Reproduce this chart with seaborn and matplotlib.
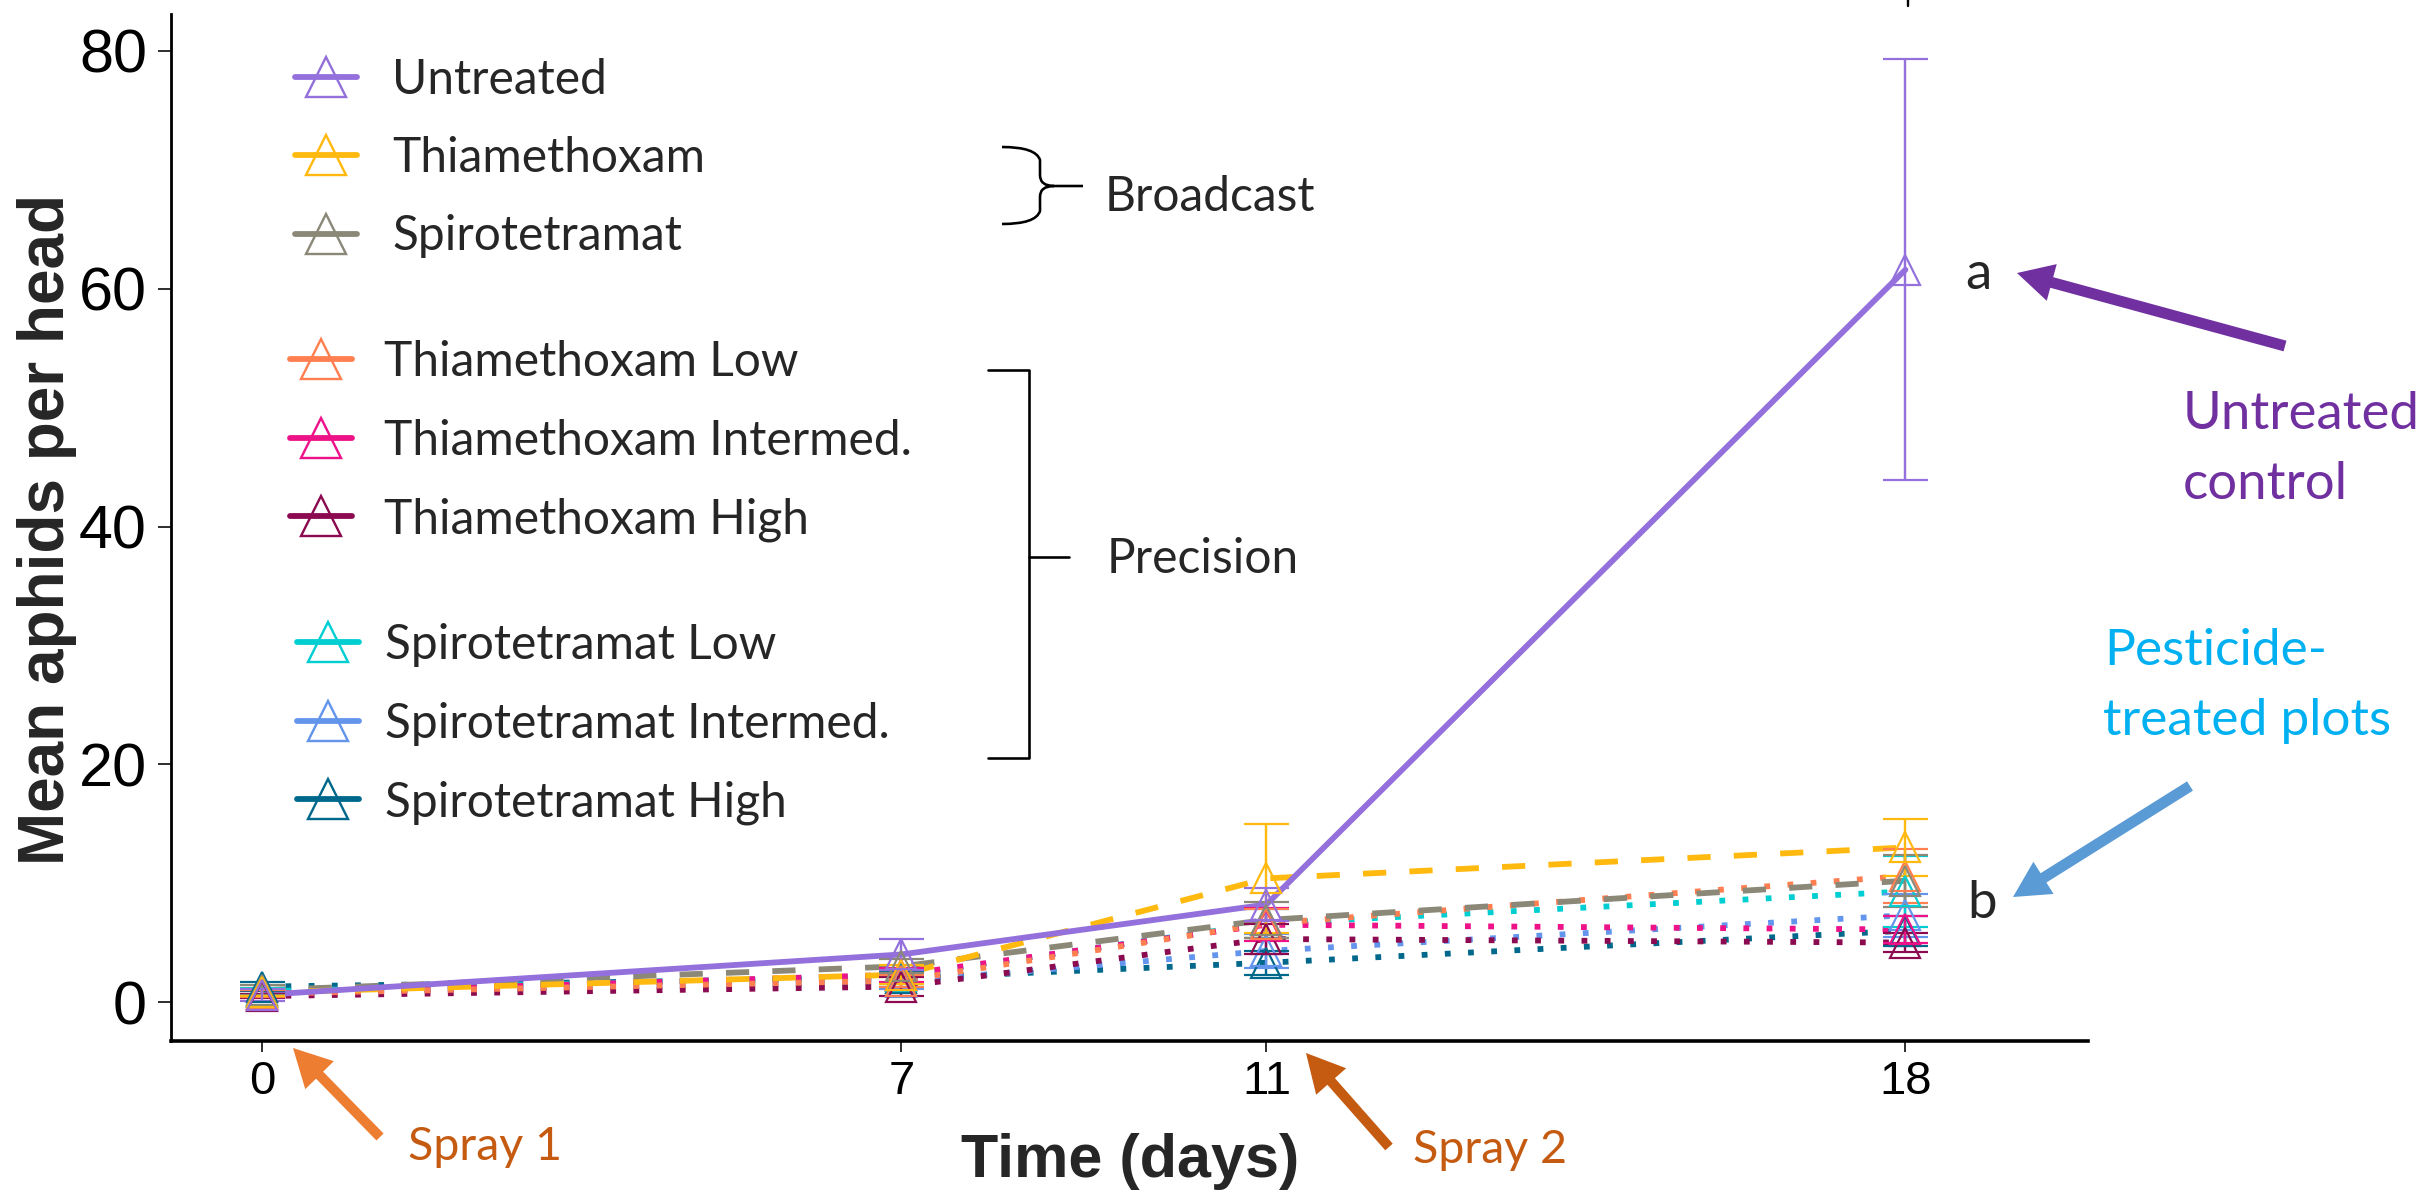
import matplotlib
matplotlib.use("Agg")
import numpy as np
import pandas as pd
import matplotlib.pyplot as plt
import seaborn as sns
from matplotlib.lines import Line2D
from matplotlib.path import Path
from matplotlib.patches import PathPatch, FancyArrowPatch, ArrowStyle

# ---------------- data ----------------
days = [0, 7, 11, 18]

treatments = [
    "Untreated", "Thiamethoxam", "Spirotetramat",
    "Thiamethoxam Low", "Thiamethoxam Intermed.", "Thiamethoxam High",
    "Spirotetramat Low", "Spirotetramat Intermed.", "Spirotetramat High",
]
application = [
    "Untreated", "Broadcast", "Broadcast",
    "Precision", "Precision", "Precision",
    "Precision", "Precision", "Precision",
]
colors = [
    "#9370DB", "#FFB90F", "#8B8878",
    "#FF7F50", "#EE1289", "#8B0A50",
    "#00CED1", "#6495ED", "#00688B",
]

untreated_mean = [0.6, 4.0, 8.2, 61.6]
untreated_se = [0.5, 1.3, 1.4, 17.7]
thia_mean = [0.8, 2.3, 10.4, 13.0]
thia_se = [0.3, 0.8, 4.6, 2.4]
spiro_mean = [1.0, 3.0, 6.9, 10.2]
spiro_se = [0.4, 0.6, 1.5, 2.2]
thia_low_mean = [0.7, 1.8, 6.6, 10.6]
thia_low_se = [0.3, 0.5, 1.2, 2.3]
thia_int_mean = [0.7, 2.3, 6.5, 6.1]
thia_int_se = [0.3, 0.6, 1.4, 1.1]
thia_high_mean = [0.5, 1.3, 5.3, 5.0]
thia_high_se = [0.2, 0.8, 1.3, 0.8]
spiro_low_mean = [0.9, 2.2, 6.6, 9.3]
spiro_low_se = [0.3, 0.6, 1.2, 3.0]
spiro_int_mean = [0.8, 1.7, 4.3, 7.3]
spiro_int_se = [0.3, 0.6, 1.4, 1.8]
spiro_high_mean = [1.3, 2.0, 3.3, 6.0]
spiro_high_se = [0.4, 0.5, 1.0, 1.25]

means = [untreated_mean, thia_mean, spiro_mean,
         thia_low_mean, thia_int_mean, thia_high_mean,
         spiro_low_mean, spiro_int_mean, spiro_high_mean]
ses = [untreated_se, thia_se, spiro_se,
       thia_low_se, thia_int_se, thia_high_se,
       spiro_low_se, spiro_int_se, spiro_high_se]

y_ticks = [0, 20, 40, 60, 80]

rows = []
for t, app, m, s in zip(treatments, application, means, ses):
    for d, mi, si in zip(days, m, s):
        rows.append({"day": d, "mean": mi, "se": si, "treatment": t, "application": app})
df = pd.DataFrame(rows)
palette = dict(zip(treatments, colors))

# ---------------- figure ----------------
W, H, DPI = 2425, 1192, 100
PX = 72.0 / DPI  # points per pixel

sns.set_style("white")
plt.rcParams["font.family"] = ["Liberation Sans", "DejaVu Sans"]
ANN = ["Lato", "DejaVu Sans"]

fig = plt.figure(figsize=(W / DPI, H / DPI), dpi=DPI)
ax = fig.add_axes([171 / W, 1 - 1041 / H, 1917 / W, (1041 - 14.5) / H])

LW = 5.8 * PX
sns.lineplot(
    data=df, x="day", y="mean", hue="treatment", hue_order=treatments[::-1],
    palette=palette, style="application",
    style_order=["Untreated", "Broadcast", "Precision"],
    dashes={"Untreated": "", "Broadcast": (4, 4), "Precision": (1, 3)},
    linewidth=LW, errorbar=None, legend=False, ax=ax, zorder=2,
)

for t in treatments[::-1]:
    sub = df[df["treatment"] == t]
    c = palette[t]
    ax.errorbar(
        sub["day"], sub["mean"], yerr=sub["se"], fmt="^", ms=30 * PX,
        mfc="none", mec=c, mew=2.2 * PX, ecolor=c, elinewidth=2.4 * PX,
        capsize=22.5 * PX, capthick=3.0 * PX, linestyle="none", zorder=3,
    )

ax.set_xlim(-1.0, 20.0)
ax.set_ylim(-3.28, 83.07)
ax.set_xticks(days)
ax.set_xticklabels([str(d) for d in days])
ax.set_yticks(y_ticks)
ax.set_yticklabels([str(v) for v in y_ticks])
ax.set_xlabel("")
ax.set_ylabel("")
for side in ("top", "right"):
    ax.spines[side].set_visible(False)
ax.spines["left"].set_linewidth(2.8 * PX)
ax.spines["bottom"].set_linewidth(3.6 * PX)
ax.spines["left"].set_color("black")
ax.spines["bottom"].set_color("black")
ax.tick_params(axis="y", labelsize=44, length=13 * PX, width=2 * PX,
               color="#333333", pad=11 * PX, left=True, labelcolor="black")
ax.tick_params(axis="x", labelsize=34, length=11 * PX, width=2 * PX,
               color="#333333", pad=8 * PX, bottom=True, labelcolor="black")


def fx(x):
    return x / W


def fy(y):
    return 1 - y / H


# axis titles
fig.text(fx(64), fy(529), "Mean aphids per head", rotation=90, rotation_mode="anchor",
         ha="center", va="baseline", fontsize=46, fontweight="bold")
fig.text(fx(1130), fy(1177), "Time (days)", ha="center", va="baseline",
         fontsize=44, fontweight="bold")

# legend in three groups
groups = [
    (treatments[0:3], 295, 158.0, 0.74),
    (treatments[3:6], 290, 441.0, 0.67),
    (treatments[6:9], 296.5, 724.0, 0.55),
]
LEG_SIZE = 34.5
for labels, left, ymid, pad in groups:
    handles = [
        Line2D([], [], color=palette[t], lw=LW, marker="^", ms=40 * PX,
               mfc="none", mec=palette[t], mew=2.4 * PX)
        for t in labels
    ]
    fig.legend(handles, labels, loc="center left",
               bbox_to_anchor=(fx(left), fy(ymid)), bbox_transform=fig.transFigure,
               frameon=False, borderpad=0, borderaxespad=0,
               handlelength=62 / (LEG_SIZE / PX), handletextpad=pad,
               labelspacing=0.72, prop={"family": ANN, "size": LEG_SIZE})

# brace for broadcast treatments
brace = [(1002, 147), (1036, 147), (1040, 160), (1040, 175), (1040, 186), (1054, 186),
         (1083, 186), (1054, 186), (1040, 186), (1040, 197), (1040, 211),
         (1036, 224), (1002, 224)]
codes = [Path.MOVETO, Path.CURVE3, Path.CURVE3, Path.LINETO, Path.CURVE3, Path.CURVE3,
         Path.LINETO, Path.MOVETO, Path.CURVE3, Path.CURVE3, Path.LINETO,
         Path.CURVE3, Path.CURVE3]
fig.add_artist(PathPatch(Path([(fx(x), fy(y)) for x, y in brace], codes), fill=False,
                         ec="black", lw=2.6 * PX, transform=fig.transFigure))
fig.text(fx(1105), fy(211), "Broadcast", ha="left", va="baseline",
         family=ANN, fontsize=34.5)

# bracket for precision treatments
bx = [988, 1029, 1029, 988]
by = [370, 370, 758, 758]
fig.add_artist(Line2D([fx(x) for x in bx], [fy(y) for y in by], color="black",
                      lw=2.6 * PX, transform=fig.transFigure))
fig.add_artist(Line2D([fx(1029), fx(1069)], [fy(557), fy(557)], color="black",
                      lw=2.6 * PX, transform=fig.transFigure))
fig.text(fx(1107), fy(573), "Precision", ha="left", va="baseline",
         family=ANN, fontsize=34.5)

# letters of significance
fig.text(fx(1965), fy(289), "a", ha="left", va="baseline", family=ANN, fontsize=38)
fig.text(fx(1967), fy(918), "b", ha="left", va="baseline", family=ANN, fontsize=38)

# small mark above the panel
fig.add_artist(Line2D([fx(1908), fx(1908)], [fy(0), fy(6)], color="black",
                      lw=2.4 * PX, transform=fig.transFigure))


def block_arrow(tail, tip, color, hl, hw, tw):
    style = ArrowStyle.Simple(head_length=hl, head_width=hw, tail_width=tw)
    fig.add_artist(FancyArrowPatch((fx(tail[0]), fy(tail[1])), (fx(tip[0]), fy(tip[1])),
                                   transform=fig.transFigure, arrowstyle=style,
                                   mutation_scale=1, shrinkA=0, shrinkB=0,
                                   color=color, lw=0))


block_arrow((2285, 346), (2017, 273), "#7030A0", 36 * PX, 38 * PX, 11 * PX)
block_arrow((2190, 786), (2013, 897), "#5B9BD5", 36 * PX, 38 * PX, 11 * PX)
block_arrow((380, 1137), (293, 1048), "#ED7D31", 38 * PX, 40 * PX, 10 * PX)
block_arrow((1389, 1147), (1306, 1053), "#C55A11", 38 * PX, 40 * PX, 10 * PX)

fig.text(fx(2183), fy(429), "Untreated", ha="left", va="baseline",
         family=ANN, fontsize=38, color="#7030A0")
fig.text(fx(2183), fy(499), "control", ha="left", va="baseline",
         family=ANN, fontsize=38, color="#7030A0")
fig.text(fx(2104), fy(665), "Pesticide-", ha="left", va="baseline",
         family=ANN, fontsize=37, color="#00B0F0")
fig.text(fx(2103), fy(735), "treated plots", ha="left", va="baseline",
         family=ANN, fontsize=37, color="#00B0F0")
fig.text(fx(408), fy(1160), "Spray 1", ha="left", va="baseline",
         family=ANN, fontsize=33.5, color="#C55A11")
fig.text(fx(1413), fy(1163), "Spray 2", ha="left", va="baseline",
         family=ANN, fontsize=33.5, color="#C55A11")

fig.savefig("out.png", dpi=DPI, facecolor="white")
